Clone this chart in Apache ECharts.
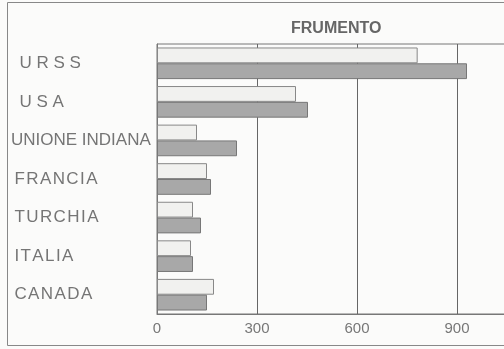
<!DOCTYPE html>
<html>
<head>
<meta charset="utf-8">
<script src="https://cdn.jsdelivr.net/npm/echarts@6/dist/echarts.min.js"></script>
<style>
  html, body { margin: 0; padding: 0; background: #fbfbfa; }
  #main { width: 504px; height: 349px; }
</style>
</head>
<body>
<div id="main"></div>
<script>
// paesi, dall'alto verso il basso
const categories = ['\u2002U R S S', '\u2002U S A', 'UNIONE INDIANA', '\u2009F\u200aR\u200aA\u200aN\u200aC\u200aI\u200aA', '\u2009T\u200aU\u200aR\u200aC\u200aH\u200aI\u200aA', '\u2009I\u200aT\u200aA\u200aL\u200aI\u200aA', '\u2009C\u200aA\u200aN\u200aA\u200aD\u200aA'];
// barra chiara (sopra) e barra scura (sotto)
const lightValues = [782, 417, 120, 150, 108, 102, 171];
const darkValues = [930, 453, 240, 162, 132, 108, 150];
const xTicks = [0, 300, 600, 900];

const chart = echarts.init(document.getElementById('main'), null, { renderer: 'canvas' });

var option = {
  backgroundColor: '#fbfbfa',
  animation: false,
  title: {
    text: 'FRUMENTO',
    left: 286,
    top: 16,
    textStyle: {
      fontFamily: 'Liberation Sans',
      fontSize: 16,
      fontWeight: 'bold',
      color: '#666'
    }
  },
  graphic: [
    {
      type: 'rect',
      shape: { x: 7.5, y: 2.5, width: 520, height: 343 },
      style: { fill: 'none', stroke: '#888', lineWidth: 1 },
      silent: true
    }
  ],
  grid: {
    left: 157,
    width: 360,
    top: 44,
    bottom: 35,
    show: true,
    borderColor: '#777',
    borderWidth: 1,
    backgroundColor: 'transparent',
    containLabel: false,
    outerBoundsMode: 'none'
  },
  xAxis: {
    type: 'value',
    min: 0,
    max: 1080,
    interval: 300,
    axisLine: { show: true, lineStyle: { color: '#777' } },
    axisTick: { show: false },
    splitLine: { show: true, lineStyle: { color: '#666', width: 1 } },
    axisLabel: {
      margin: 7,
      fontFamily: 'Liberation Sans',
      fontSize: 15,
      color: '#777',
      formatter: function (v) { return xTicks.indexOf(v) >= 0 ? String(v) : ''; }
    }
  },
  yAxis: {
    type: 'category',
    data: categories,
    inverse: true,
    axisLine: { show: true, lineStyle: { color: '#777' } },
    axisTick: { show: false },
    axisLabel: {
      align: 'left',
      margin: 146,
      fontFamily: 'Liberation Sans',
      fontSize: 17,
      color: '#757575'
    }
  },
  series: [
    {
      name: 'chiaro',
      type: 'bar',
      data: lightValues,
      barGap: '0%',
      barCategoryGap: '18%',
      itemStyle: { color: '#f1f1ef', borderColor: '#888', borderWidth: 1 }
    },
    {
      name: 'scuro',
      type: 'bar',
      data: darkValues,
      itemStyle: { color: '#a8a8a8', borderColor: '#777', borderWidth: 1 }
    }
  ]
};

chart.setOption(option);
</script>
</body>
</html>
